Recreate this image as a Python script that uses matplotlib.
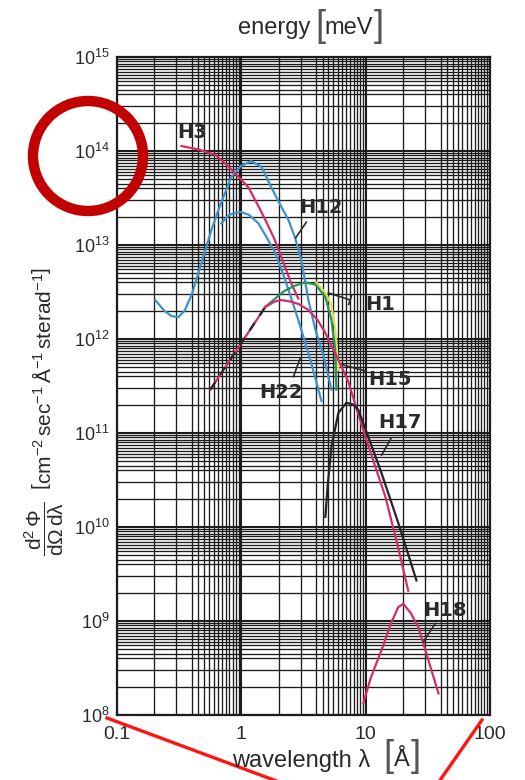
import numpy as np
import matplotlib
matplotlib.use("Agg")
import matplotlib.pyplot as plt
from matplotlib.ticker import LogLocator, NullFormatter, FixedLocator, FixedFormatter
from matplotlib.patches import Ellipse, ArrowStyle
from matplotlib.lines import Line2D

plt.rcParams['font.family'] = ['Liberation Sans', 'DejaVu Sans']
plt.rcParams['mathtext.fontset'] = 'custom'
plt.rcParams['mathtext.rm'] = 'Liberation Sans'
plt.rcParams['mathtext.it'] = 'Liberation Sans:italic'
plt.rcParams['mathtext.bf'] = 'Liberation Sans:bold'

# --- spectra (wavelength in Angstrom, flux) ---
h3_lam = [0.33, 0.45, 0.62, 0.79, 0.95, 1.14, 1.35, 1.56, 1.85, 2.1, 2.52, 2.87]
h3_flux = [1.13e14, 1.04e14, 9.1e13, 6.8e13, 5.3e13, 4.1e13, 2.7e13, 1.85e13, 1.15e13, 7.4e12, 3.9e12, 2.7e12]

h12a_lam = [0.203, 0.24, 0.275, 0.311, 0.35, 0.4, 0.45, 0.513, 0.58, 0.653, 0.74, 0.831, 1.0, 1.2,
            1.45, 1.74, 2.05, 2.39, 2.7, 3.04, 3.46, 3.94, 4.6, 5.3]
h12a_flux = [2.6e12, 2.0e12, 1.75e12, 1.71e12, 2.0e12, 3.0e12, 5.0e12, 8.9e12, 1.5e13, 2.35e13, 3.6e13,
             5.3e13, 7.0e13, 7.8e13, 6.8e13, 4.1e13, 2.7e13, 1.85e13, 1.2e13, 6.9e12, 2.6e12, 1.25e12,
             6.5e11, 2.9e11]

h12b_lam = [0.69, 0.8, 0.98, 1.15, 1.37, 1.6, 1.88, 2.26, 2.87, 3.59, 4.4]
h12b_flux = [1.7e13, 2.1e13, 2.25e13, 2.1e13, 1.7e13, 1.2e13, 8.2e12, 4.2e12, 1.6e12, 6.0e11, 2.2e11]

h22_dash_lam = [0.563, 1.56]
h22_dash_flux = [2.9e11, 2.2e12]

h15_lam = [1.56, 1.85, 2.1, 2.5, 2.9, 3.46, 4.1, 4.74, 5.3, 6.03, 7.26, 9.95, 14.4, 18.0, 22.0]
h15_flux = [2.2e12, 2.5e12, 2.6e12, 2.5e12, 2.35e12, 2.04e12, 1.6e12, 1.16e12, 8.5e11, 6.0e11,
            3.5e11, 9.1e10, 2.1e10, 6.5e9, 2.1e9]

h1_lam = [1.56, 2.18, 2.7, 3.27, 3.94, 4.74, 5.3, 5.6, 5.7, 5.81]
h1_flux = [2.2e12, 3.2e12, 3.7e12, 4.0e12, 3.8e12, 2.8e12, 1.6e12, 9.0e11, 7.1e11, 2.9e11]

h1y_lam = [4.0, 4.74, 5.3, 5.7, 6.03]
h1y_flux = [4.0e12, 3.1e12, 2.3e12, 1.25e12, 4.7e11]

h17_lam = [4.74, 4.95, 5.3, 6.03, 7.0, 8.0, 8.73, 10.5, 13.4, 18.3, 25.6]
h17_flux = [1.28e10, 2.8e10, 7.1e10, 1.64e11, 2.1e11, 2.0e11, 1.76e11, 9.1e10, 3.75e10, 1.1e10, 2.7e9]

h18_lam = [9.58, 11.0, 13.4, 16.0, 18.3, 20.1, 23.0, 26.5, 32.0, 38.5]
h18_flux = [1.34e8, 2.5e8, 4.9e8, 9.5e8, 1.41e9, 1.52e9, 1.22e9, 8.6e8, 3.8e8, 1.7e8]

# label text, text position, leader start, leader end
labels = ["H3", "H12", "H1", "H22", "H15", "H17", "H18"]
label_xy = [(0.40, 1.56e14), (4.4, 2.5e13), (13.0, 2.35e12), (2.07, 2.68e11),
            (15.7, 3.75e11), (19.0, 1.28e11), (43.7, 1.31e9)]
leader_from = [None, (3.34, 1.76e13), (7.5, 2.6e12), (2.62, 3.95e11),
               (9.95, 4.57e11), (16.1, 8.9e10), (36.4, 9.5e8)]
leader_to = [None, (2.73, 1.19e13), (5.0, 3.1e12), (2.98, 6.3e11),
             (6.6, 5.3e11), (13.4, 5.8e10), (29.1, 6.0e8)]

pink = '#d42c6a'
blue = '#3d93c9'
green = '#2f8f5a'
yellow = '#d9e24f'
black = '#23232f'
ink = '#2a2a2a'

fig = plt.figure(figsize=(5.25, 7.8), dpi=100)
ax = fig.add_axes([0.2229, 0.0833, 0.7105, 0.8436])
ax.set_xscale('log')
ax.set_yscale('log')
ax.set_xlim(0.1, 100)
ax.set_ylim(1e8, 1e15)

subs = [2, 3, 4, 4.5, 5, 5.5, 6, 6.5, 7, 7.5, 8, 8.5, 9, 9.5]
ax.xaxis.set_minor_locator(LogLocator(base=10, subs=subs, numticks=50))
ax.yaxis.set_minor_locator(LogLocator(base=10, subs=subs, numticks=50))
ax.xaxis.set_minor_formatter(NullFormatter())
ax.yaxis.set_minor_formatter(NullFormatter())
ax.xaxis.set_major_locator(FixedLocator([0.1, 1, 10, 100]))
ax.xaxis.set_major_formatter(FixedFormatter(['0.1', '1', '10', '100']))
ax.grid(True, which='major', color='#1c1c1c', lw=1.5)
ax.grid(True, which='minor', color='#1c1c1c', lw=0.95)
ax.tick_params(which='both', length=0, colors=ink)
ax.tick_params(axis='y', labelsize=13, pad=5)
ax.tick_params(axis='x', labelsize=14, pad=8)
for s in ax.spines.values():
    s.set_color('#1c1c1c')
    s.set_linewidth(1.6)

lw = 1.6
ax.plot(h12a_lam, h12a_flux, color=blue, lw=lw)
ax.plot(h12b_lam, h12b_flux, color=blue, lw=lw)
ax.plot(h3_lam, h3_flux, color=pink, lw=lw)
ax.plot(h1y_lam, h1y_flux, color=yellow, lw=lw)
ax.plot(h1_lam, h1_flux, color=green, lw=lw)
ax.plot(h15_lam, h15_flux, color=pink, lw=lw)
ax.plot(h22_dash_lam, h22_dash_flux, color=pink, lw=lw)
ax.plot(h22_dash_lam, h22_dash_flux, color=black, lw=lw, ls=(0, (4, 4)))
ax.plot(h17_lam, h17_flux, color=black, lw=lw)
ax.plot(h18_lam, h18_flux, color=pink, lw=lw)

for name, pos, a, b in zip(labels, label_xy, leader_from, leader_to):
    ax.text(pos[0], pos[1], name, fontsize=14, fontweight='bold', color=ink,
            family='DejaVu Sans', ha='center', va='center')
    if a is not None:
        style = ArrowStyle('|-|', widthA=0.35, widthB=0) if name == 'H1' else '-'
        ax.annotate('', xy=b, xytext=a,
                    arrowprops=dict(arrowstyle=style, color=ink, lw=1.2,
                                    shrinkA=0, shrinkB=0))

# top label with tall thin brackets
fig.text(310 / 525, 1 - 28 / 780, 'energy', fontsize=17, ha='right', va='center', color=ink)
fig.text(320 / 525, 1 - 26 / 780, '[', fontsize=26, ha='center', va='center', color='#555555',
         fontweight='light')
fig.text(349 / 525, 1 - 28 / 780, 'meV', fontsize=17, ha='center', va='center', color=ink)
fig.text(379 / 525, 1 - 26 / 780, ']', fontsize=26, ha='center', va='center', color='#555555',
         fontweight='light')

# bottom label
fig.text(370 / 525, 1 - 760 / 780, 'wavelength λ', fontsize=17, ha='right',
         va='center', color=ink)
fig.text(388 / 525, 1 - 757 / 780, '[', fontsize=26, ha='center', va='center', color='#555555')
fig.text(402 / 525, 1 - 760 / 780, 'Å', fontsize=17, ha='center', va='center', color=ink)
fig.text(416 / 525, 1 - 757 / 780, ']', fontsize=26, ha='center', va='center', color='#555555')

fig.text(0.084, 1 - 412 / 780,
         r'$\dfrac{\mathrm{d^2\,\Phi}}{\mathrm{d\Omega\, d\lambda}}\ \ '
         r'\left[\mathrm{cm^{-2}\,sec^{-1}\,\AA^{-1}\,sterad^{-1}}\right]$',
         fontsize=15, rotation=90, ha='center', va='center', color=ink)

# red markings drawn on top of the scanned figure
fig.add_artist(Ellipse((88 / 525, 1 - 156 / 780), 110 / 525, 110 / 780,
                       transform=fig.transFigure, fill=False, ec='#c10000', lw=7.5))
fig.add_artist(Line2D([107 / 525, 290 / 525], [1 - 718 / 780, 1 - 786 / 780],
                      transform=fig.transFigure, color='#ff1414', lw=2.4))
fig.add_artist(Line2D([482 / 525, 436 / 525], [1 - 720 / 780, 1 - 786 / 780],
                      transform=fig.transFigure, color='#ff1414', lw=2.4))

fig.savefig('out.png', dpi=100, facecolor='white')
